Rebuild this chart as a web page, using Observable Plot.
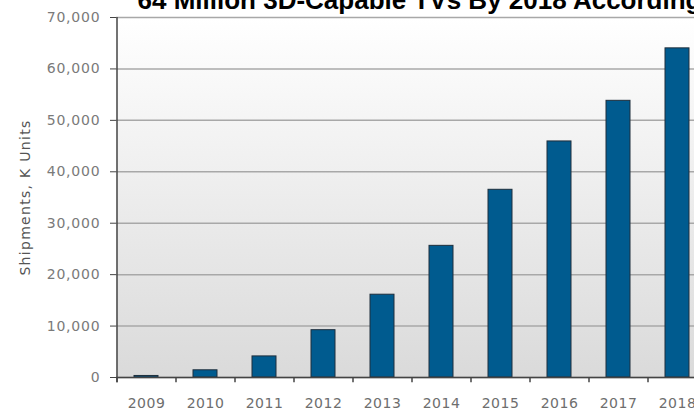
<!DOCTYPE html>
<html>
<head>
<meta charset="utf-8">
<script src="https://cdn.jsdelivr.net/npm/d3@7"></script>
<script src="https://cdn.jsdelivr.net/npm/@observablehq/plot@0.6"></script>
<style>
  html, body { margin: 0; padding: 0; background: #fff; overflow: hidden; }
  #chart { width: 694px; height: 410px; overflow: hidden; }
  #chart svg { max-width: none !important; }
</style>
</head>
<body>
<div id="chart"></div>
<script>
const years = ["2009","2010","2011","2012","2013","2014","2015","2016","2017","2018"];
const shipments = [300, 1400, 4100, 9200, 16100, 25600, 36500, 45900, 53800, 64000];
const yTicks = [0, 10000, 20000, 30000, 40000, 50000, 60000, 70000];
const titleText = "64 Million 3D-Capable TVs By 2018 According to DisplaySearch";
const yLabel = "Shipments, K Units";

const data = years.map((year, i) => ({year, value: shipments[i]}));

const step = 59;
const plot = Plot.plot({
  width: 760,
  height: 410,
  marginLeft: 116,
  marginRight: 54,
  marginTop: 17,
  marginBottom: 33,
  style: {fontFamily: "'DejaVu Sans', Verdana, sans-serif", background: "transparent", maxWidth: "none"},
  x: {type: "band", domain: years, paddingInner: 0.6, paddingOuter: 0.3},
  y: {domain: [0, 70000]},
  marks: [
    Plot.frame({fill: "url(#bgGrad)", stroke: "none"}),
    Plot.ruleY(yTicks, {stroke: "#a8a8a8", strokeWidth: 1.5}),
    Plot.barY(data, {x: "year", y: "value", fill: "#005b8f", stroke: "#1e2e3c", strokeWidth: 1}),
    Plot.ruleY([0], {stroke: "#444", strokeWidth: 1.5}),
    Plot.ruleX([years[0]], {dx: -step / 2, stroke: "#444", strokeWidth: 1.5, y1: -1000, y2: 70000}),
    Plot.ruleX(years, {x: d => d, dx: -step / 2, y1: 0, y2: -1000, stroke: "#444", strokeWidth: 1.5}),
    Plot.axisY({ticks: yTicks, tickFormat: d => d3.format(",d")(d), tickSize: 6, tickPadding: 10, stroke: "#444", fill: "#7a7a7a", fontSize: 14, label: null}),
    Plot.axisX({tickSize: 0, tickPadding: 21, fill: "#6e6e6e", fontSize: 14, label: null}),
    Plot.text([yLabel], {text: d => d, frameAnchor: "left", textAnchor: "middle", rotate: -90, dx: -91, fill: "#555", fontSize: 14}),
    Plot.text([titleText], {text: d => d, frameAnchor: "top-left", textAnchor: "start", lineAnchor: "bottom", dx: 21, dy: -9, fill: "#000", fontSize: 26, fontWeight: "bold", fontFamily: "'Liberation Sans', Arial, sans-serif"})
  ]
});

plot.style.maxWidth = "none";
const svg = d3.select(plot);
const defs = svg.insert("defs", ":first-child");
const grad = defs.append("linearGradient").attr("id", "bgGrad").attr("x1", 0).attr("y1", 0).attr("x2", 0).attr("y2", 1);
grad.append("stop").attr("offset", "0%").attr("stop-color", "#ffffff");
grad.append("stop").attr("offset", "100%").attr("stop-color", "#dadada");
svg.selectAll("g[aria-label='y-axis tick label'] text").style("letter-spacing", "0.8px");
svg.selectAll("g[aria-label='x-axis tick label'] text").style("letter-spacing", "0.5px");
svg.selectAll("g[aria-label='text'] text").filter(function() { return this.textContent === yLabel; }).style("letter-spacing", "1.3px");

document.getElementById("chart").appendChild(plot);
</script>
</body>
</html>
